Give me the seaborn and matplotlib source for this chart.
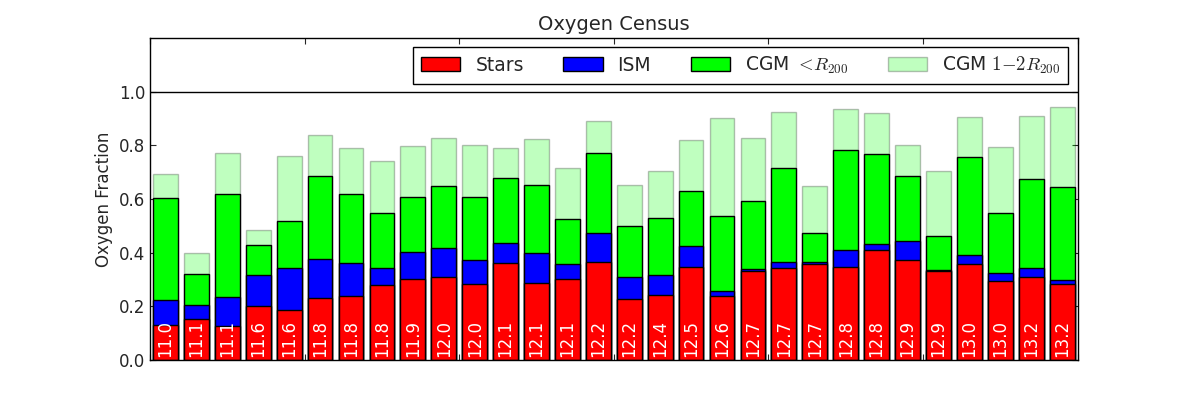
import numpy as np
import pandas as pd
import matplotlib
matplotlib.use('Agg')
import matplotlib.pyplot as plt
import seaborn as sns

# halo mass labels (log M) written inside each bar
mass_labels = ['11.0', '11.1', '11.1', '11.6', '11.6', '11.8', '11.8', '11.8', '11.9', '12.0',
               '12.0', '12.1', '12.1', '12.1', '12.2', '12.2', '12.4', '12.5', '12.6', '12.7',
               '12.7', '12.7', '12.8', '12.8', '12.9', '12.9', '13.0', '13.0', '13.2', '13.2']

# oxygen fractions per component
stars = [0.129, 0.151, 0.125, 0.200, 0.188, 0.230, 0.237, 0.280, 0.302, 0.310,
         0.283, 0.362, 0.287, 0.302, 0.364, 0.227, 0.241, 0.346, 0.237, 0.332,
         0.343, 0.358, 0.347, 0.411, 0.373, 0.332, 0.358, 0.295, 0.308, 0.283]
ism = [0.095, 0.054, 0.110, 0.117, 0.155, 0.147, 0.125, 0.063, 0.101, 0.108,
       0.090, 0.075, 0.113, 0.056, 0.110, 0.083, 0.076, 0.080, 0.020, 0.008,
       0.023, 0.008, 0.064, 0.022, 0.071, 0.004, 0.034, 0.030, 0.035, 0.016]
cgm_in = [0.378, 0.116, 0.385, 0.113, 0.176, 0.307, 0.255, 0.206, 0.206, 0.232,
          0.233, 0.240, 0.254, 0.169, 0.296, 0.190, 0.214, 0.202, 0.281, 0.251,
          0.348, 0.108, 0.370, 0.333, 0.240, 0.127, 0.363, 0.221, 0.330, 0.347]
cgm_out = [0.090, 0.079, 0.150, 0.056, 0.240, 0.154, 0.172, 0.191, 0.188, 0.176,
           0.194, 0.112, 0.169, 0.187, 0.120, 0.154, 0.172, 0.191, 0.362, 0.235,
           0.210, 0.176, 0.154, 0.154, 0.116, 0.240, 0.150, 0.247, 0.236, 0.297]

sns.set_style('ticks')
plt.rcParams['font.family'] = ['DejaVu Sans']
plt.rcParams['mathtext.fontset'] = 'cm'
plt.rcParams['xtick.direction'] = 'in'
plt.rcParams['ytick.direction'] = 'in'
plt.rcParams['xtick.top'] = True
plt.rcParams['ytick.right'] = True
plt.rcParams['axes.edgecolor'] = 'black'

df = pd.DataFrame({'pos': np.arange(len(stars)) + 0.5,
                   'stars': stars, 'ism': ism, 'cgm_in': cgm_in, 'cgm_out': cgm_out})
df['c1'] = df['stars']
df['c2'] = df['c1'] + df['ism']
df['c3'] = df['c2'] + df['cgm_in']
df['c4'] = df['c3'] + df['cgm_out']

fig = plt.figure(figsize=(12, 4), dpi=100)
ax = fig.add_subplot(1, 1, 1)
fig.subplots_adjust(left=0.125, right=0.898, bottom=0.1, top=0.905)

# stacked look: draw cumulative totals from the top down
sns.barplot(data=df, x='pos', y='c4', native_scale=True, color='lime', alpha=0.25,
            edgecolor='black', linewidth=1, saturation=1, ax=ax, label='CGM $1{-}2R_{200}$')
sns.barplot(data=df, x='pos', y='c3', native_scale=True, color='lime',
            edgecolor='black', linewidth=1, saturation=1, ax=ax, label='CGM $<\\!R_{200}$')
sns.barplot(data=df, x='pos', y='c2', native_scale=True, color='blue',
            edgecolor='black', linewidth=1, saturation=1, ax=ax, label='ISM')
sns.barplot(data=df, x='pos', y='c1', native_scale=True, color='red',
            edgecolor='black', linewidth=1, saturation=1, ax=ax, label='Stars')

for xp, lab in zip(df['pos'], mass_labels):
    ax.text(xp, 0.012, lab, rotation=90, color='white', fontsize=12,
            ha='center', va='bottom')

ax.axhline(1.0, color='black', lw=1)
ax.set_xlim(0, len(stars))
ax.set_ylim(0, 1.2)
ax.set_xticks(np.arange(0, len(stars) + 1, 5))
ax.set_xticklabels([])
ax.set_yticks(np.arange(0, 1.01, 0.2))
ax.set_yticklabels(['%.1f' % v for v in np.arange(0, 1.01, 0.2)], fontsize=12)
ax.tick_params(length=4, width=0.8)
ax.set_xlabel('')
ax.set_ylabel('Oxygen Fraction', fontsize=12)
ax.set_title('Oxygen Census', fontsize=14)

handles, labels = ax.get_legend_handles_labels()
leg = ax.legend(handles[::-1], labels[::-1], loc='upper right', ncol=4, fontsize=13.5,
                fancybox=False, framealpha=1, edgecolor='black', handlelength=2.1,
                handleheight=0.75, columnspacing=2.1, borderaxespad=0.5)
leg.get_frame().set_linewidth(1)

for s in ax.spines.values():
    s.set_linewidth(1)

fig.savefig('out.png', dpi=100)
